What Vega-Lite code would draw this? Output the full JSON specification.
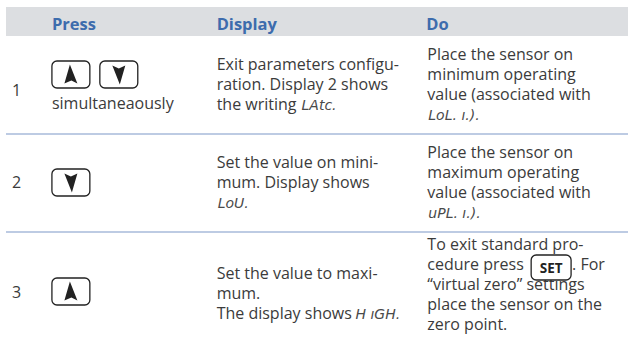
{
  "$schema": "https://vega.github.io/schema/vega-lite/v6.json",
  "width": 629,
  "height": 350,
  "padding": 0,
  "autosize": {"type": "fit", "contains": "padding"},
  "background": "white",
  "config": {"view": {"stroke": null}},
  "datasets": {
    "header": [{"x": 6, "x2": 629, "y": 7, "y2": 36}],
    "seps": [{"x": 6, "x2": 629, "y": 134}, {"x": 6, "x2": 629, "y": 232}],
    "heads": [
      {"x": 52, "y": 30, "t": "Press"},
      {"x": 217, "y": 30, "t": "Display"},
      {"x": 427, "y": 30, "t": "Do"}
    ],
    "body": [
      {"x": 12, "y": 96, "t": "1"},
      {"x": 12, "y": 188, "t": "2"},
      {"x": 12, "y": 298, "t": "3"},
      {"x": 52, "y": 109, "t": "simultaneaously"},
      {"x": 217, "y": 70, "t": "Exit parameters configu-"},
      {"x": 217, "y": 90, "t": "ration. Display 2 shows"},
      {"x": 217, "y": 110, "t": "the writing"},
      {"x": 428, "y": 60, "t": "Place the sensor on"},
      {"x": 428, "y": 80, "t": "minimum operating"},
      {"x": 428, "y": 100, "t": "value (associated with"},
      {"x": 217, "y": 168, "t": "Set the value on mini-"},
      {"x": 217, "y": 188, "t": "mum. Display shows"},
      {"x": 428, "y": 158, "t": "Place the sensor on"},
      {"x": 428, "y": 178, "t": "maximum operating"},
      {"x": 428, "y": 198, "t": "value (associated with"},
      {"x": 217, "y": 279, "t": "Set the value to maxi-"},
      {"x": 217, "y": 299, "t": "mum."},
      {"x": 217, "y": 319, "t": "The display shows"},
      {"x": 428, "y": 250, "t": "To exit standard pro-"},
      {"x": 428, "y": 270, "t": "cedure press"},
      {"x": 573, "y": 270, "t": ". For"},
      {"x": 428, "y": 290, "t": "“virtual zero” settings"},
      {"x": 428, "y": 310, "t": "place the sensor on the"},
      {"x": 428, "y": 330, "t": "zero point."}
    ],
    "seg": [
      {"x": 302, "y": 110, "t": "LAtc."},
      {"x": 429, "y": 120, "t": "LoL. ı.)."},
      {"x": 218, "y": 208, "t": "LoU."},
      {"x": 429, "y": 218, "t": "uPL. ı.)."},
      {"x": 356, "y": 319, "t": "H ıGH."}
    ],
    "buttons": [
      {"x": 52, "x2": 90, "y": 61, "y2": 88},
      {"x": 100, "x2": 138, "y": 61, "y2": 88},
      {"x": 52, "x2": 90, "y": 169, "y2": 196},
      {"x": 52, "x2": 90, "y": 278, "y2": 305},
      {"x": 532, "x2": 572, "y": 255, "y2": 280}
    ],
    "arrows": [
      {"x": 71, "y": 74.5, "dir": "up"},
      {"x": 119, "y": 74.5, "dir": "down"},
      {"x": 71, "y": 182.5, "dir": "down"},
      {"x": 71, "y": 291.5, "dir": "up"}
    ],
    "setlabel": [{"x": 552, "y": 272.5, "t": "SET"}]
  },
  "encoding": {
    "x": {"field": "x", "type": "quantitative", "scale": {"domain": [0, 629], "nice": false, "zero": false}, "axis": null},
    "y": {"field": "y", "type": "quantitative", "scale": {"domain": [0, 350], "nice": false, "zero": false, "reverse": true}, "axis": null}
  },
  "layer": [
    {
      "data": {"name": "header"},
      "mark": {"type": "rect", "fill": "#dcdee1"},
      "encoding": {"x2": {"field": "x2"}, "y2": {"field": "y2"}}
    },
    {
      "data": {"name": "seps"},
      "mark": {"type": "rule", "stroke": "#7d97c8", "strokeWidth": 1.2},
      "encoding": {"x2": {"field": "x2"}}
    },
    {
      "data": {"name": "heads"},
      "mark": {"type": "text", "align": "left", "baseline": "alphabetic", "font": "Open Sans", "fontWeight": "bold", "fontSize": 16.5, "fill": "#3d6cad"},
      "encoding": {"text": {"field": "t"}}
    },
    {
      "data": {"name": "body"},
      "mark": {"type": "text", "align": "left", "baseline": "alphabetic", "font": "Open Sans", "fontSize": 16, "fill": "#3b3b3b"},
      "encoding": {"text": {"field": "t"}}
    },
    {
      "data": {"name": "seg"},
      "mark": {"type": "text", "align": "left", "baseline": "alphabetic", "font": "DejaVu Sans", "fontStyle": "italic", "fontWeight": 200, "fontSize": 14, "letterSpacing": 1, "fill": "#4a4a4a"},
      "encoding": {"text": {"field": "t"}}
    },
    {
      "data": {"name": "buttons"},
      "mark": {"type": "rect", "fill": "white", "stroke": "#222222", "strokeWidth": 1.3, "cornerRadius": 5},
      "encoding": {"x2": {"field": "x2"}, "y2": {"field": "y2"}}
    },
    {
      "data": {"name": "arrows"},
      "mark": {"type": "point", "filled": true, "fill": "#222222", "opacity": 1, "size": 400, "strokeWidth": 0},
      "encoding": {
        "shape": {"field": "dir", "type": "nominal", "scale": {"domain": ["up", "down"], "range": ["M-0.1,-1 L0.65,0.9 L0.05,0.6 L-0.65,0.9 Z", "M0.1,1 L0.65,-0.9 L0,-0.6 L-0.65,-0.9 Z"]}, "legend": null}
      }
    },
    {
      "data": {"name": "setlabel"},
      "mark": {"type": "text", "align": "center", "baseline": "alphabetic", "font": "Open Sans", "fontWeight": "bold", "fontSize": 13.5, "fill": "#222222"},
      "encoding": {"text": {"field": "t"}}
    }
  ]
}
